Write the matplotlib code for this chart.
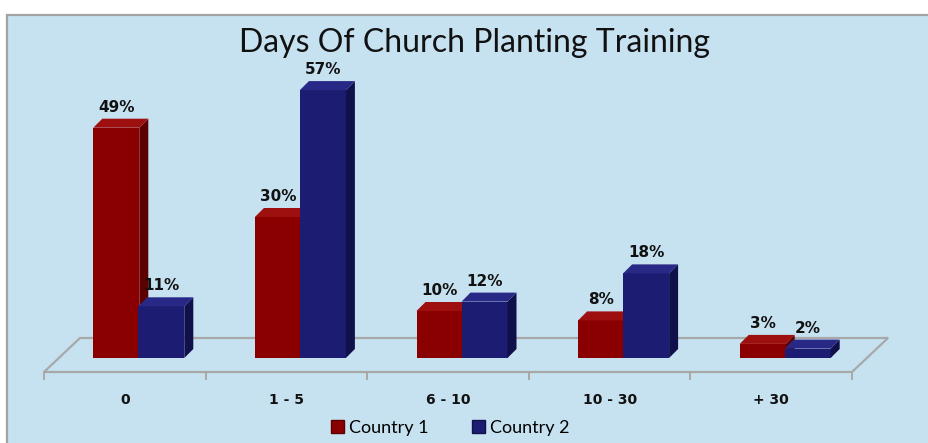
import matplotlib
matplotlib.use('Agg')
import matplotlib.pyplot as plt
import matplotlib.patches as mpatches
import numpy as np

# data
categories = ['0', '1 - 5', '6 - 10', '10 - 30', '+ 30']
series_names = ['Country 1', 'Country 2']
country1 = [49, 30, 10, 8, 3]
country2 = [11, 57, 12, 18, 2]

COLORS = {
    'bg': '#c6e2f1',
    'border': '#a3a3a3',
    'floor': '#a8a8a8',
    'red': '#8a0000', 'red_side': '#5c0000', 'red_top': '#9e1010',
    'blue': '#1c1c72', 'blue_side': '#10104a', 'blue_top': '#282886',
}

W, H = 929, 443
fig = plt.figure(figsize=(W / 100, H / 100), dpi=100)
fig.patch.set_facecolor('white')

# chart frame (runs off the right/bottom edge like the screenshot)
frame = mpatches.Rectangle((7.5 / W, -0.05), 1.1, (H - 14.5) / H + 0.05,
                           transform=fig.transFigure, facecolor=COLORS['bg'],
                           edgecolor=COLORS['border'], linewidth=1.6, zorder=-5)
fig.patches.append(frame)

# axes mapped so that one % is ~4.7 px and the bar base sits at y=358 px
px_per_pct = 4.7
base_px = 358
ax = fig.add_axes([44 / W, 0, 808 / W, 1])
ax.set_zorder(2)
ax.set_xlim(-0.5, 4.5)
ax.set_ylim((base_px - H) / px_per_pct, base_px / px_per_pct)
ax.axis('off')

unit = 808 / 5.0  # px per category
def px_x(p):
    return p / unit
def px_y(p):
    return p / px_per_pct

# floor
f_front = px_y(-14)
f_back = px_y(20)
shift = px_x(36)
floor = [(-0.5, f_front), (4.5, f_front), (4.5 + shift, f_back), (-0.5 + shift, f_back)]
ax.add_patch(mpatches.Polygon(floor, closed=True, facecolor=COLORS['bg'],
                              edgecolor=COLORS['floor'], linewidth=1.6, zorder=1,
                              clip_on=False))
for b in np.arange(-0.5, 5.0, 1.0):
    ax.plot([b, b], [f_front, f_front - px_y(7)], color=COLORS['floor'], lw=1.4,
            zorder=1, clip_on=False)

x = np.arange(len(categories))
width = px_x(46)
off1 = px_x(-8.5)
off2 = px_x(36.5)
dx = px_x(9)
dy = px_y(9)


def bar3d(xs, vals, front, side, top, z):
    bars = ax.bar(xs, vals, width=width, color=front, zorder=z, linewidth=0)
    for rect, v in zip(bars, vals):
        x0 = rect.get_x()
        x1 = x0 + rect.get_width()
        ax.add_patch(mpatches.Polygon([(x1, 0), (x1 + dx, dy), (x1 + dx, v + dy), (x1, v)],
                                      closed=True, facecolor=side, lw=0, zorder=z))
        ax.add_patch(mpatches.Polygon([(x0, v), (x1, v), (x1 + dx, v + dy), (x0 + dx, v + dy)],
                                      closed=True, facecolor=top, lw=0, zorder=z))
        ax.text(x0 + rect.get_width() / 2, v + dy + px_y(4), f'{v}%', ha='center', va='bottom',
                fontsize=11, fontweight='bold', color='#111111', zorder=10)
    return bars


bar3d(x + off1, country1, COLORS['red'], COLORS['red_side'], COLORS['red_top'], 3)
bar3d(x + off2, country2, COLORS['blue'], COLORS['blue_side'], COLORS['blue_top'], 4)

for xi, lab in zip(x, categories):
    ax.text(xi, px_y(-42), lab, ha='center', va='center', fontsize=10,
            fontweight='bold', color='#111111')

fig.text(0.511, (H - 52) / H, 'Days Of Church Planting Training', ha='center',
         va='baseline', fontsize=23, family='Lato', color='#111111')

handles = [mpatches.Patch(facecolor=COLORS['red'], edgecolor=COLORS['red_side']),
           mpatches.Patch(facecolor=COLORS['blue'], edgecolor=COLORS['blue_side'])]
fig.legend(handles, series_names, loc='center', bbox_to_anchor=(0.485, (H - 428) / H),
           ncol=2, frameon=False, prop={'family': 'Lato', 'size': 13},
           handlelength=0.7, handleheight=0.7, handletextpad=0.3, columnspacing=2.4)

fig.savefig('out.png', dpi=100, facecolor='white')
